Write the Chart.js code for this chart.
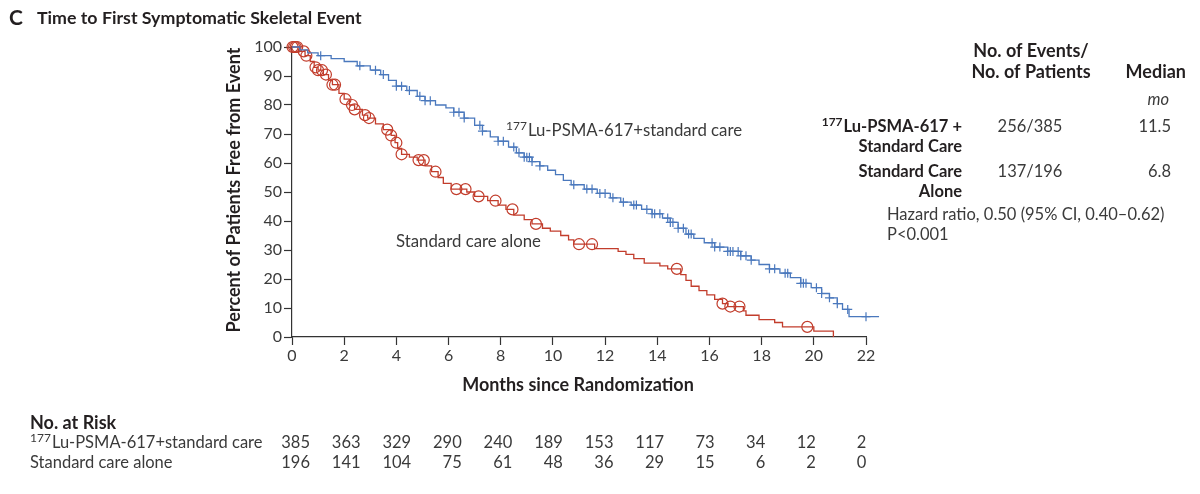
<!DOCTYPE html>
<html>
<head>
<meta charset="utf-8">
<script src="https://cdn.jsdelivr.net/npm/chart.js@4.4.0/dist/chart.umd.min.js"></script>
<style>
  html, body { margin: 0; padding: 0; background: #fff; }
  #wrap { width: 1200px; height: 494px; }
</style>
</head>
<body>
<div id="wrap"><canvas id="chart" width="1200" height="494"></canvas></div>
<script>
// Kaplan-Meier steps (months, percent free from event)
const luTimes = [0, 0.3, 0.6, 1.0, 1.5, 2.0, 2.5, 3.0, 3.4, 3.7, 4.0, 4.4, 4.8, 5.1, 5.5, 5.9, 6.2, 6.6, 7.0, 7.3, 7.6, 7.9, 8.3, 8.6, 8.9, 9.2, 9.5, 9.8, 10.1, 10.4, 10.7, 11.2, 11.7, 12.2, 12.6, 13.0, 13.4, 13.8, 14.2, 14.5, 14.8, 15.1, 15.4, 15.8, 16.2, 16.7, 17.2, 17.6, 17.9, 18.3, 18.7, 19.1, 19.5, 19.9, 20.3, 20.6, 20.9, 21.1, 21.35, 22.5];
const luSurv  = [100, 99, 98, 97, 96, 95, 93.5, 92, 90.5, 88.5, 86.5, 85, 83, 81.5, 80, 79, 77.5, 75.5, 73, 71, 69, 67.5, 65.5, 63.5, 62, 60.5, 59, 57.5, 56, 54, 52.5, 51, 49.5, 48, 46.5, 45.5, 44, 42.5, 41, 39.5, 37.5, 35.5, 34, 32.5, 31, 29.5, 28, 26.5, 25, 23.5, 22, 20.5, 18.5, 17, 15, 13.5, 11.5, 9.5, 7, 7];
const luCensor = [1.1, 2.6, 3.2, 3.5, 4.0, 4.2, 4.5, 4.9, 5.1, 5.3, 6.2, 6.4, 6.6, 7.2, 7.3, 7.9, 8.1, 8.5, 8.7, 8.9, 9.0, 9.1, 9.2, 9.5, 10.8, 11.3, 11.5, 11.8, 12.0, 12.3, 12.7, 13.1, 13.2, 13.6, 13.8, 13.9, 14.1, 14.4, 14.5, 14.6, 14.8, 15.0, 15.2, 15.3, 16.1, 16.2, 16.4, 16.7, 16.8, 16.9, 17.1, 17.2, 17.4, 17.6, 18.3, 18.5, 18.9, 19.0, 19.5, 19.6, 19.7, 20.1, 20.3, 20.6, 20.9, 21.3, 22.0, 22.3];

const scTimes = [0, 0.3, 0.5, 0.7, 0.85, 1.0, 1.2, 1.4, 1.55, 1.8, 2.0, 2.2, 2.4, 2.7, 2.9, 3.2, 3.5, 3.8, 3.95, 4.05, 4.2, 4.5, 4.8, 5.1, 5.35, 5.6, 5.8, 6.1, 6.7, 7.0, 7.5, 7.9, 8.2, 8.5, 8.9, 9.2, 9.6, 9.9, 10.3, 10.6, 10.8, 11.6, 12.5, 12.8, 13.1, 13.5, 14.1, 14.4, 14.9, 15.1, 15.3, 15.6, 15.9, 16.2, 16.5, 16.7, 17.3, 17.4, 17.9, 18.5, 18.8, 20.0, 20.75];
const scSurv  = [100, 98.5, 97, 95, 93, 92, 90.5, 88.5, 87, 84, 82, 80, 78.5, 76.5, 75.5, 73.5, 71.5, 69.5, 67, 65, 63, 62, 61, 59, 57, 55, 53, 51, 50, 48.5, 47, 45.5, 44, 42, 40.5, 39, 37.5, 36.5, 35, 33.5, 32, 30.5, 29.5, 28.5, 27, 25.5, 24.5, 23.5, 21.5, 19.5, 17.5, 16, 14.5, 13, 11.5, 10.5, 9, 7.5, 6, 5, 3.5, 2, 0];
const scCensor = [0.02, 0.08, 0.14, 0.2, 0.45, 0.55, 0.9, 1.0, 1.15, 1.3, 1.55, 1.65, 2.05, 2.3, 2.4, 2.8, 2.95, 3.65, 3.8, 4.0, 4.2, 4.85, 5.05, 5.5, 6.3, 6.65, 7.15, 7.8, 8.45, 9.35, 11.0, 11.5, 14.75, 16.5, 16.8, 17.15, 19.75];

// No. at risk table
const riskMonths = [0, 2, 4, 6, 8, 10, 12, 14, 16, 18, 20, 22];
const riskLu = [385, 363, 329, 290, 240, 189, 153, 117, 73, 34, 12, 2];
const riskSc = [196, 141, 104, 75, 61, 48, 36, 29, 15, 6, 2, 0];

const BLUE = '#4a78bd';
const RED = '#c23d2c';
const INK = '#231f20';
const GREY = '#3a3a3a';
const FONT = 'Lato, "Open Sans", sans-serif';

function survAt(times, surv, t) {
  let v = surv[0];
  for (let i = 0; i < times.length; i++) {
    if (times[i] <= t) v = surv[i];
  }
  return v;
}
const toPts = (t, s) => t.map((x, i) => ({ x: x, y: s[i] }));
const censorPts = (c, t, s) => c.map(x => ({ x: x, y: survAt(t, s, x) }));

// superscript prefix + text
function supText(ctx, sup, text, x, y, align, size, weight, color) {
  ctx.fillStyle = color;
  ctx.textBaseline = 'middle';
  const ss = Math.round(size * 0.7);
  ctx.font = weight + ' ' + ss + 'px ' + FONT;
  const ws = ctx.measureText(sup).width;
  ctx.font = weight + ' ' + size + 'px ' + FONT;
  const wt = ctx.measureText(text).width;
  let x0 = x;
  if (align === 'right') x0 = x - ws - wt - 1;
  ctx.textAlign = 'left';
  ctx.font = weight + ' ' + ss + 'px ' + FONT;
  ctx.fillText(sup, x0, y - size * 0.3);
  ctx.font = weight + ' ' + size + 'px ' + FONT;
  ctx.fillText(text, x0 + ws + 1, y);
}

function txt(ctx, s, x, y, align, font, color) {
  ctx.font = font;
  ctx.fillStyle = color;
  ctx.textAlign = align;
  ctx.textBaseline = 'middle';
  ctx.fillText(s, x, y);
}

const textPlugin = {
  id: 'texts',
  afterDraw(chart) {
    const ctx = chart.ctx;
    const area = chart.chartArea;
    ctx.save();
    // title
    txt(ctx, 'C', 9, 18, 'left', 'bold 21px ' + FONT, INK);
    txt(ctx, 'Time to First Symptomatic Skeletal Event', 37, 18, 'left', 'bold 17.8px ' + FONT, INK);

    // y axis title
    ctx.save();
    ctx.translate(234, (area.top + area.bottom) / 2 - 2);
    ctx.rotate(-Math.PI / 2);
    txt(ctx, 'Percent of Patients Free from Event', 0, 0, 'center', 'bold 18px ' + FONT, INK);
    ctx.restore();

    // x axis title
    txt(ctx, 'Months since Randomization', 578, 385, 'center', 'bold 18px ' + FONT, INK);

    // curve labels
    supText(ctx, '177', 'Lu-PSMA-617+standard care', 506, 131, 'left', 16.8, 'normal', GREY);
    txt(ctx, 'Standard care alone', 396, 242, 'left', '16.8px ' + FONT, GREY);

    // legend table
    const hb = 'bold 18px ' + FONT;
    txt(ctx, 'No. of Events/', 1031, 51, 'center', hb, INK);
    txt(ctx, 'No. of Patients', 1031, 72, 'center', hb, INK);
    txt(ctx, 'Median', 1186, 72, 'right', hb, INK);
    txt(ctx, 'mo', 1169, 100, 'right', 'italic 16.5px ' + FONT, GREY);
    supText(ctx, '177', 'Lu-PSMA-617 +', 962, 127, 'right', 16.5, 'bold', INK);
    const lb = 'bold 16.5px ' + FONT;
    txt(ctx, 'Standard Care', 962, 147, 'right', lb, INK);
    txt(ctx, 'Standard Care', 962, 172, 'right', lb, INK);
    txt(ctx, 'Alone', 962, 192, 'right', lb, INK);
    const rf = '16.5px ' + FONT;
    txt(ctx, '256/385', 1030, 127, 'center', rf, GREY);
    txt(ctx, '137/196', 1030, 172, 'center', rf, GREY);
    txt(ctx, '11.5', 1171, 127, 'right', rf, GREY);
    txt(ctx, '6.8', 1171, 172, 'right', rf, GREY);
    txt(ctx, 'Hazard ratio, 0.50 (95% CI, 0.40\u20130.62)', 887, 215, 'left', rf, GREY);
    txt(ctx, 'P<0.001', 887, 235, 'left', rf, GREY);

    // no. at risk
    txt(ctx, 'No. at Risk', 30, 423, 'left', 'bold 18px ' + FONT, INK);
    supText(ctx, '177', 'Lu-PSMA-617+standard care', 30, 443, 'left', 16.5, 'normal', GREY);
    txt(ctx, 'Standard care alone', 30, 463, 'left', rf, GREY);
    const xs = chart.scales.x;
    riskMonths.forEach((m, i) => {
      const x = xs.getPixelForValue(m) + 18 - i * 1.6;
      txt(ctx, String(riskLu[i]), x, 443, 'right', rf, GREY);
      txt(ctx, String(riskSc[i]), x, 463, 'right', rf, GREY);
    });
    ctx.restore();
  }
};

const ctx = document.getElementById('chart').getContext('2d');
new Chart(ctx, {
  type: 'line',
  data: {
    datasets: [
      {
        data: toPts(luTimes, luSurv),
        borderColor: BLUE, borderWidth: 1.3, stepped: true,
        pointRadius: 0, fill: false, clip: false
      },
      {
        data: toPts(scTimes, scSurv),
        borderColor: RED, borderWidth: 1.3, stepped: true,
        pointRadius: 0, fill: false, clip: false
      },
      {
        data: censorPts(luCensor, luTimes, luSurv),
        showLine: false, pointStyle: 'cross', pointRadius: 4.5,
        borderColor: BLUE, borderWidth: 1.2, clip: false
      },
      {
        data: censorPts(scCensor, scTimes, scSurv),
        showLine: false, pointStyle: 'circle', pointRadius: 5.5,
        borderColor: RED, backgroundColor: 'rgba(0,0,0,0)', borderWidth: 1.2, clip: false
      }
    ]
  },
  options: {
    responsive: false,
    animation: false,
    devicePixelRatio: 1,
    layout: { padding: { left: 232, top: 47, right: 334, bottom: 127 } },
    plugins: { legend: { display: false }, tooltip: { enabled: false } },
    scales: {
      x: {
        type: 'linear', min: 0, max: 22,
        afterFit: (s) => { s.height = 30; },
        ticks: { stepSize: 2, padding: 1, color: GREY, font: { family: FONT, size: 16 } },
        grid: { drawOnChartArea: false, tickLength: 8, tickColor: '#333', tickWidth: 1.2 },
        border: { color: '#333', width: 1.2 }
      },
      y: {
        min: 0, max: 100,
        afterFit: (s) => { s.width = 60; },
        ticks: { stepSize: 10, padding: 2, color: GREY, font: { family: FONT, size: 16 } },
        grid: { drawOnChartArea: false, tickLength: 8, tickColor: '#333', tickWidth: 1.2 },
        border: { color: '#333', width: 1.2 }
      }
    }
  },
  plugins: [textPlugin]
});
</script>
</body>
</html>
